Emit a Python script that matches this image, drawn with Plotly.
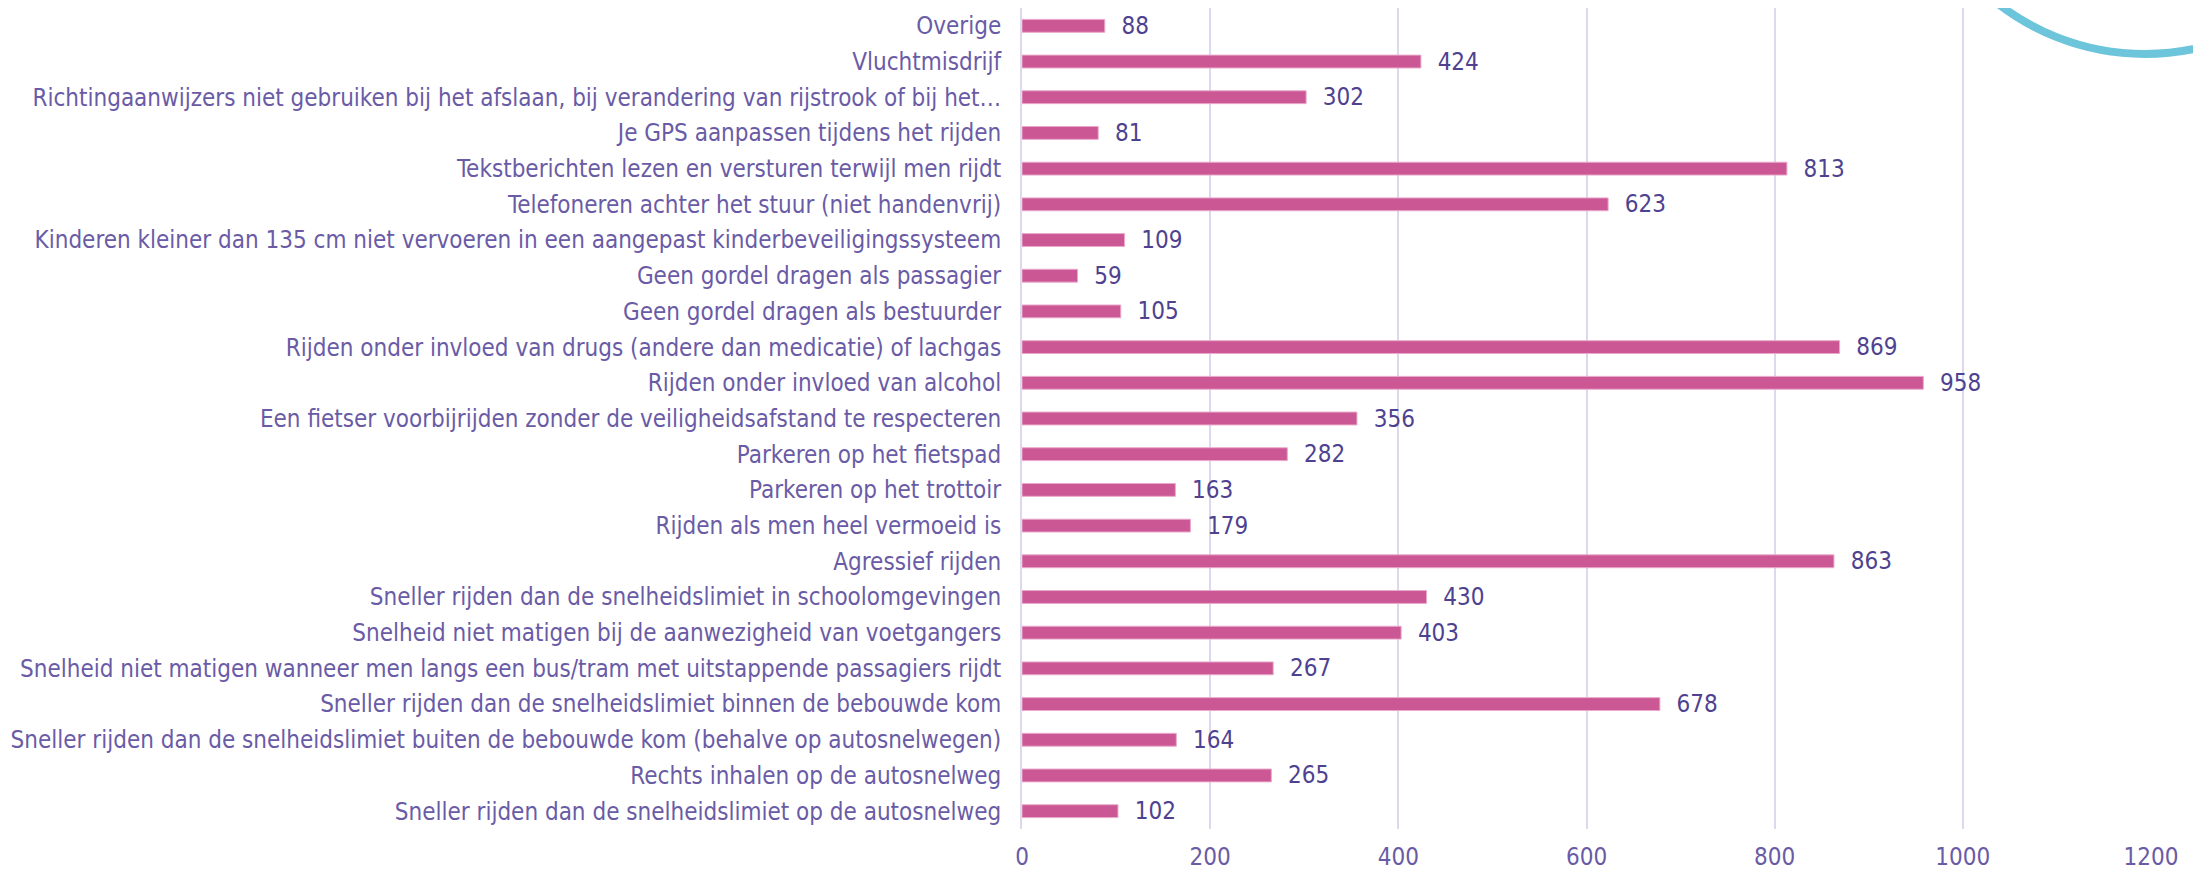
import plotly.graph_objects as go

# categories from top to bottom, as in the reference
categories = [
    "Overige",
    "Vluchtmisdrijf",
    "Richtingaanwijzers niet gebruiken bij het afslaan, bij verandering van rijstrook of bij het…",
    "Je GPS aanpassen tijdens het rijden",
    "Tekstberichten lezen en versturen terwijl men rijdt",
    "Telefoneren achter het stuur (niet handenvrij)",
    "Kinderen kleiner dan 135 cm niet vervoeren in een aangepast kinderbeveiligingssysteem",
    "Geen gordel dragen als passagier",
    "Geen gordel dragen als bestuurder",
    "Rijden onder invloed van drugs (andere dan medicatie) of lachgas",
    "Rijden onder invloed van alcohol",
    "Een fietser voorbijrijden zonder de veiligheidsafstand te respecteren",
    "Parkeren op het fietspad",
    "Parkeren op het trottoir",
    "Rijden als men heel vermoeid is",
    "Agressief rijden",
    "Sneller rijden dan de snelheidslimiet in schoolomgevingen",
    "Snelheid niet matigen bij de aanwezigheid van voetgangers",
    "Snelheid niet matigen wanneer men langs een bus/tram met uitstappende passagiers rijdt",
    "Sneller rijden dan de snelheidslimiet binnen de bebouwde kom",
    "Sneller rijden dan de snelheidslimiet buiten de bebouwde kom (behalve op autosnelwegen)",
    "Rechts inhalen op de autosnelweg",
    "Sneller rijden dan de snelheidslimiet op de autosnelweg",
]
values = [88, 424, 302, 81, 813, 623, 109, 59, 105, 869, 958, 356, 282,
          163, 179, 863, 430, 403, 267, 678, 164, 265, 102]
x_ticks = [0, 200, 400, 600, 800, 1000, 1200]

FONT = "DejaVu Sans Condensed, DejaVu Sans, sans-serif"
BAR = "#CB5794"
LABEL = "#6A5BA6"
VALUE = "#4E4290"
GRID = "#DCD8EE"

fig = go.Figure()
fig.add_trace(go.Bar(
    y=categories,
    x=values,
    orientation="h",
    marker=dict(color=BAR, line=dict(color="#EAA9CC", width=1)),
    text=values,
    texttemplate="\u00a0\u00a0%{text}",
    textposition="outside",
    constraintext="none",
    cliponaxis=False,
    textfont=dict(family=FONT, size=24, color=VALUE),
    hoverinfo="x+y",
))

# decorative arc in the top right corner
fig.add_shape(
    type="circle", xref="paper", yref="paper",
    x0=0.7821, x1=1.2073, y0=0.9440, y1=1.5286,
    line=dict(color="#6CC5DB", width=8),
    layer="below",
)

# the page adds an 8px body margin, so the figure is a bit smaller than the window
fig.update_layout(
    width=2193,
    height=862,
    margin=dict(l=1014, r=50, t=0, b=41),
    paper_bgcolor="white",
    plot_bgcolor="white",
    bargap=0.64,
    showlegend=False,
    font=dict(family=FONT, size=24, color=LABEL),
)
fig.update_xaxes(
    range=[0, 1200],
    tickvals=x_ticks,
    ticktext=[str(v) for v in x_ticks],
    showgrid=True, gridcolor=GRID, gridwidth=2,
    zeroline=False, showline=False,
    ticks="outside", ticklen=6, tickcolor="rgba(0,0,0,0)",
    tickfont=dict(family=FONT, size=24, color=LABEL),
)
fig.update_yaxes(
    autorange="reversed",
    showline=True, linecolor=GRID, linewidth=2,
    showgrid=False,
    ticks="outside", ticklen=14, tickcolor="rgba(0,0,0,0)",
    tickfont=dict(family=FONT, size=24, color=LABEL),
)

fig.write_html("out.html")
